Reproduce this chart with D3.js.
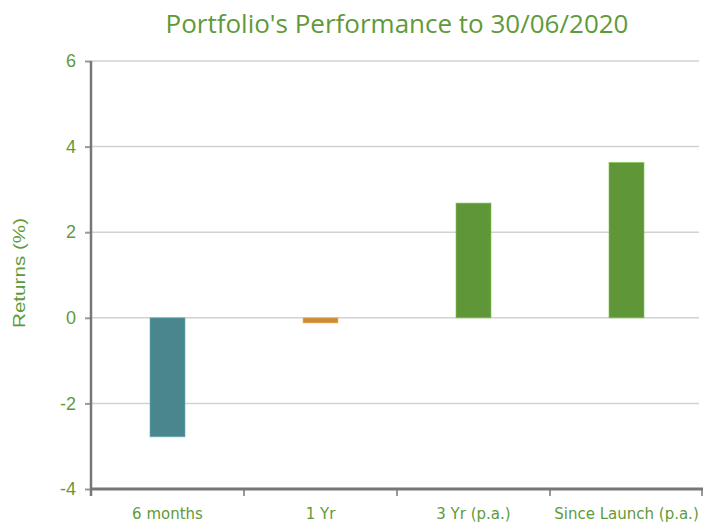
<!DOCTYPE html>
<html><head><meta charset="utf-8">
<script src="https://cdn.jsdelivr.net/npm/d3@7"></script>
<style>body{margin:0;background:#fff}svg{display:block}</style>
</head><body>
<script>
const categories = ["6 months", "1 Yr", "3 Yr (p.a.)", "Since Launch (p.a.)"];
const values = [-2.78, -0.12, 2.68, 3.63];
const barColors = ["#4a868e", "#c98a3b", "#5f9638", "#5f9638"];
const yTicks = [-4, -2, 0, 2, 4, 6];
const title = "Portfolio's Performance to 30/06/2020";

const W = 707, H = 523;
const m = {left: 91, right: 4, top: 61, bottom: 34};
const svg = d3.select("body").append("svg").attr("width", W).attr("height", H);
const green = "#5f9a3a";

const x = d3.scaleBand().domain(categories).range([m.left, W - m.right]).paddingInner(0).paddingOuter(0);
const y = d3.scaleLinear().domain([-4, 6]).range([H - m.bottom, m.top]);

// gridlines
svg.append("g").selectAll("line").data(yTicks.filter(d => d !== -4)).join("line")
  .attr("x1", m.left).attr("x2", W - m.right - 4)
  .attr("y1", d => y(d)).attr("y2", d => y(d))
  .attr("stroke", "#d2d2d2").attr("stroke-width", 1.5);

// bars
const bw = 35;
svg.append("g").selectAll("rect").data(values).join("rect")
  .attr("x", (d, i) => x(categories[i]) + x.bandwidth() / 2 - bw / 2)
  .attr("width", bw)
  .attr("y", d => y(Math.max(0, d)))
  .attr("height", d => Math.abs(y(d) - y(0)))
  .attr("fill", (d, i) => barColors[i])
  .attr("stroke", (d, i) => d3.color(barColors[i]).brighter(0.8))
  .attr("stroke-opacity", 0.6)
  .attr("stroke-width", 1);

// y axis
const yAxis = d3.axisLeft(y).tickValues(yTicks).tickSize(6).tickPadding(9).tickFormat(d => String(d));
const gy = svg.append("g").attr("transform", `translate(${m.left},0)`).call(yAxis);
gy.select(".domain").remove();
gy.selectAll(".tick line").attr("stroke", "#999").attr("stroke-width", 2);
gy.selectAll(".tick text").attr("fill", green).attr("font-family", "Liberation Sans, Arial, sans-serif").attr("font-size", 18);
svg.append("line").attr("x1", m.left).attr("x2", m.left).attr("y1", m.top).attr("y2", H - m.bottom + 7)
  .attr("stroke", "#777").attr("stroke-width", 2.5);

// x axis
const xAxis = d3.axisBottom(x).tickSize(0).tickPadding(19);
const gx = svg.append("g").attr("transform", `translate(0,${H - m.bottom})`).call(xAxis);
gx.select(".domain").remove();
gx.selectAll(".tick text").attr("fill", green).attr("font-family", "DejaVu Sans, Verdana, sans-serif").attr("font-size", 15);
const edges = categories.map(c => x(c)).concat([x(categories[categories.length - 1]) + x.bandwidth()]);
svg.append("g").selectAll("line").data(edges.slice(1)).join("line")
  .attr("x1", d => Math.min(d, W - m.right - 1)).attr("x2", d => Math.min(d, W - m.right - 1))
  .attr("y1", H - m.bottom).attr("y2", H - m.bottom + 7)
  .attr("stroke", "#999").attr("stroke-width", 2);
svg.append("line").attr("x1", m.left).attr("x2", W - m.right).attr("y1", H - m.bottom).attr("y2", H - m.bottom)
  .attr("stroke", "#777").attr("stroke-width", 3);

// title
svg.append("text").attr("x", 397).attr("y", 33).attr("text-anchor", "middle")
  .attr("fill", green).attr("font-family", "Open Sans, Noto Sans, sans-serif").attr("font-size", 26)
  .text(title);

// y label
svg.append("text").attr("transform", `translate(25,273) rotate(-90)`).attr("text-anchor", "middle")
  .attr("fill", green).attr("font-family", "Liberation Sans, Arial, sans-serif").attr("font-size", 17)
  .attr("textLength", 110).attr("lengthAdjust", "spacingAndGlyphs")
  .text("Returns (%)");
</script>
</body></html>
